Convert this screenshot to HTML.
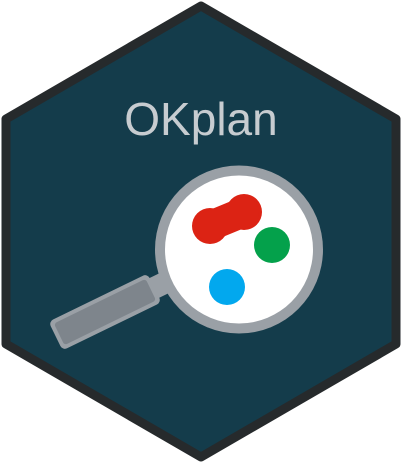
<!DOCTYPE html>
<html><head><style>html,body{margin:0;padding:0;background:#fff;}svg{display:block}</style></head>
<body>
<svg width="402" height="463" viewBox="0 0 402 463" xmlns="http://www.w3.org/2000/svg">
<polygon points="201,6 396,119 396,344 201,457 6,344 6,119" fill="#143c4b" stroke="#262a2c" stroke-width="9" stroke-linejoin="round"/>
<text x="201" y="135" text-anchor="middle" font-family="Liberation Sans, sans-serif" font-size="46" fill="#c7ccd0">OKplan</text>
<g transform="rotate(-26 105 312)">
<rect x="140" y="301" width="40" height="22" fill="#9aa0a6"/>
<rect x="50" y="296" width="110" height="32" rx="5" fill="#9aa0a6"/>
<rect x="54" y="300" width="102" height="24" rx="3" fill="#7e858c"/>
</g>
<circle cx="239" cy="249.5" r="84" fill="#9aa0a6"/>
<circle cx="239" cy="249.5" r="74" fill="#fff"/>
<circle cx="210" cy="226" r="18" fill="#dc2314"/>
<circle cx="244" cy="212" r="18" fill="#dc2314"/>
<line x1="210" y1="226" x2="244" y2="212" stroke="#dc2314" stroke-width="30" stroke-linecap="round"/>
<circle cx="272" cy="245" r="18" fill="#04a14b"/>
<circle cx="227" cy="287" r="18" fill="#02a8ee"/>
</svg>
</body></html>
